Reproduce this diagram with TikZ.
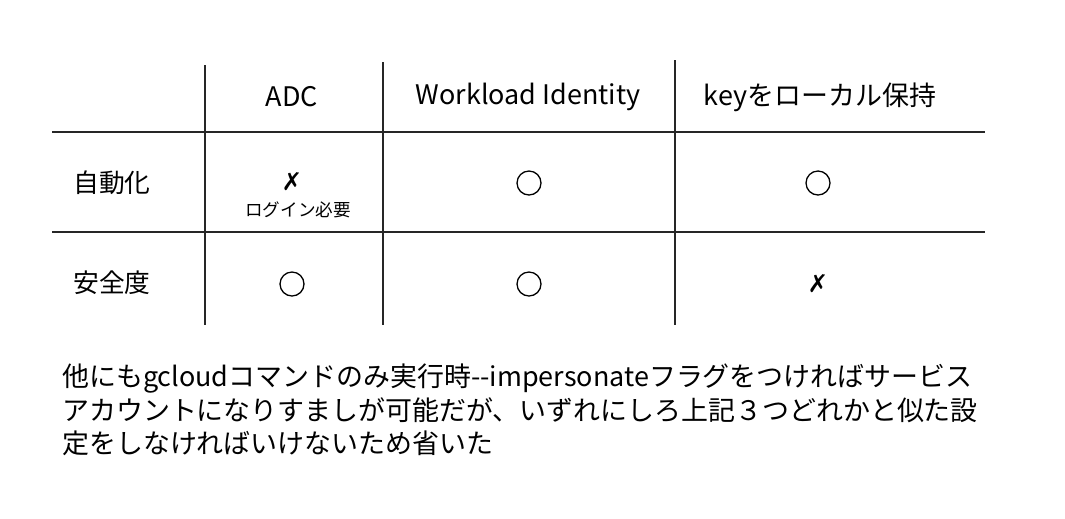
\documentclass[tikz,border=0pt]{standalone}
\usepackage{fontspec}
\setmainfont{Noto Sans CJK JP}
\newfontfamily\symf{DejaVu Sans}
\begin{document}
\begin{tikzpicture}[x=0.03cm,y=-0.03cm,
  ln/.style={line width=1.6pt,black!85},
  hd/.style={font=\fontsize{23}{26}\selectfont},
  cl/.style={font=\fontsize{22}{26}\selectfont},
  ok/.style={circle,draw,line width=1.1pt,minimum size=0.72cm,inner sep=0pt},
  ng/.style={font=\symf\fontsize{21}{24}\selectfont},
  para/.style={font=\fontsize{23}{28.5}\selectfont,align=left,anchor=north west,inner sep=0pt}]
\useasboundingbox (0,0) rectangle (1065,518);
\coordinate (v1t) at (205,65); \coordinate (v1b) at (205,325);
\coordinate (v2t) at (383,62); \coordinate (v2b) at (383,325);
\coordinate (v3t) at (675,60); \coordinate (v3b) at (675,325);
\coordinate (h1l) at (52,132); \coordinate (h1r) at (985,132);
\coordinate (h2l) at (52,232); \coordinate (h2r) at (985,232);
\draw[ln] (v1t)--(v1b); \draw[ln] (v2t)--(v2b); \draw[ln] (v3t)--(v3b);
\draw[ln] (h1l)--(h1r); \draw[ln] (h2l)--(h2r);
\node[hd] (h1) at (292,97) {ADC};
\node[hd] (h2) at (528,97) {Workload Identity};
\node[hd] (h3) at (820,97) {keyをローカル保持};
\node[cl] (r1) at (112,183) {自動化};
\node[cl] (r2) at (112,283) {安全度};
\node[ng] (c11) at (292,182) {✗};
\node[font=\fontsize{15}{18}\selectfont] (c11s) at (298,210) {ログイン必要};
\node[ok] (c12) at (529,183) {};
\node[ok] (c13) at (818,183) {};
\node[ok] (c21) at (292,284) {};
\node[ok] (c22) at (529,284) {};
\node[ng] (c23) at (818,284) {✗};
\node[para] (p) at (62,364) {他にもgcloudコマンドのみ実行時-{}-impersonateフラグをつければサービス\\アカウントになりすましが可能だが、いずれにしろ上記３つどれかと似た設\\定をしなければいけないため省いた};
\end{tikzpicture}
\end{document}
